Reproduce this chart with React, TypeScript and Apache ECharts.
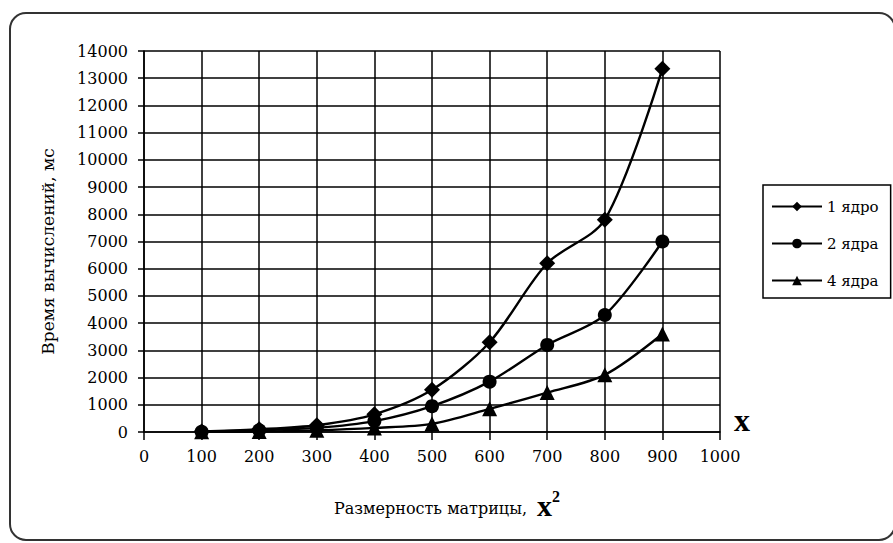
import React, { useEffect, useRef } from "react";
import * as echarts from "echarts";

const sizes = [100, 200, 300, 400, 500, 600, 700, 800, 900];
const core1 = [20, 100, 250, 650, 1550, 3300, 6200, 7800, 13350];
const core2 = [10, 60, 150, 400, 950, 1850, 3200, 4300, 7000];
const core4 = [5, 20, 60, 150, 300, 850, 1450, 2100, 3600];
const seriesNames = ["1 ядро", "2 ядра", "4 ядра"];
const yTitle = "Время вычислений, мс";
const xTitle = "Размерность матрицы,";

const FONT = "'DejaVu Serif', 'Liberation Serif', serif";

export default function App() {
  const ref = useRef<HTMLDivElement>(null);
  useEffect(() => {
    if (!ref.current) return;
    const chart = echarts.init(ref.current, null, { renderer: "svg" });
    const mk = (name: string, vals: number[], symbol: string, size: number) => ({
      name,
      type: "line",
      data: sizes.map((s, i) => [s, vals[i]]),
      smooth: 0.3,
      symbol,
      symbolSize: size,
      lineStyle: { color: "#000", width: 2.4 },
      itemStyle: { color: "#000" },
    });
    chart.setOption({
      animation: false,
      backgroundColor: "#fff",
      textStyle: { fontFamily: FONT },
      grid: { left: 144, top: 51, right: 173, bottom: 111 },
      legend: {
        orient: "vertical",
        left: 763,
        top: 185,
        itemWidth: 50,
        itemHeight: 12,
        itemGap: 22,
        padding: [14, 12, 10, 8],
        borderColor: "#000",
        borderWidth: 1.5,
        textStyle: { fontFamily: FONT, fontSize: 15, color: "#000" },
        data: seriesNames,
      },
      xAxis: {
        type: "value",
        min: 0,
        max: 1000,
        interval: 100,
        axisLine: { show: true, onZero: false, lineStyle: { color: "#000", width: 1.5 } },
        axisTick: { show: true, length: 8, lineStyle: { color: "#000", width: 1.5 } },
        axisLabel: { color: "#000", fontSize: 16, margin: 16, fontFamily: FONT, formatter: (v: number) => String(v) },
        splitLine: { show: true, lineStyle: { color: "#000", width: 1.5 } },
        name: "{a|" + xTitle + "}{b|x}{c|2}",
        nameLocation: "middle",
        nameGap: 56,
        nameTextStyle: {
          rich: {
            a: { fontFamily: FONT, fontSize: 16, color: "#000", padding: [6, 0, 0, 30] },
            b: { fontFamily: "'Liberation Serif', serif", fontSize: 30, fontWeight: "bold", color: "#000", padding: [0, 0, 0, 10] },
            c: { fontFamily: "'Liberation Serif', serif", fontSize: 16, fontWeight: "bold", color: "#000", padding: [0, 0, 18, 0] },
          },
        },
      },
      yAxis: {
        type: "value",
        min: 0,
        max: 14000,
        interval: 1000,
        axisLine: { show: true, lineStyle: { color: "#000", width: 1.5 } },
        axisTick: { show: true, length: 6, lineStyle: { color: "#000", width: 1.5 } },
        axisLabel: { color: "#000", fontSize: 16, margin: 16, fontFamily: FONT, formatter: (v: number) => String(v) },
        splitLine: { show: true, lineStyle: { color: "#000", width: 1.5 } },
        name: yTitle,
        nameLocation: "middle",
        nameGap: 88,
        nameTextStyle: { fontFamily: FONT, fontSize: 17, color: "#000", padding: [0, 20, 0, 0] },
      },
      graphic: [
        {
          type: "rect",
          shape: { x: 10, y: 13, width: 885, height: 527, r: 16 },
          style: { fill: "none", stroke: "#333", lineWidth: 2 },
          silent: true,
        },
        {
          type: "text",
          left: 734,
          top: 404,
          style: { text: "x", font: "bold 32px 'Liberation Serif', serif", fill: "#000" },
        },
      ],
      series: [
        mk(seriesNames[0], core1, "diamond", 16),
        mk(seriesNames[1], core2, "circle", 14),
        mk(seriesNames[2], core4, "triangle", 15),
      ],
    });
    return () => chart.dispose();
  }, []);
  return (
    <div
      ref={ref}
      style={{ position: "fixed", left: 0, top: 0, width: 893, height: 543 }}
    />
  );
}
